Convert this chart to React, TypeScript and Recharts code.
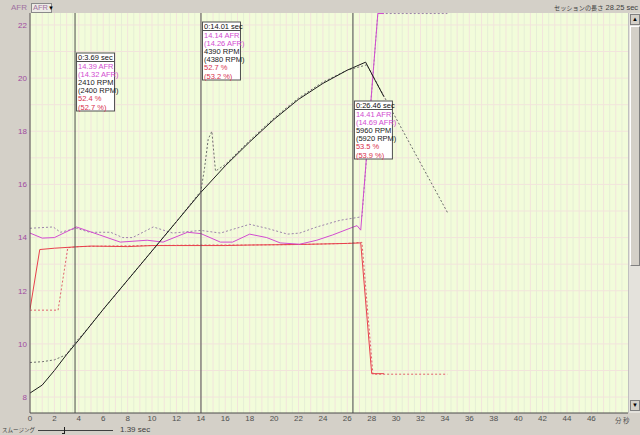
import React from 'react';
import { LineChart, Line, XAxis, YAxis, CartesianGrid, ReferenceLine } from 'recharts';

// everything is drawn on the AFR scale; solid = this session, dashed = comparison session
const rpmNowT = [0, 1, 2, 3, 4, 6, 8, 10, 12, 14, 16, 18, 20, 22, 24, 26, 27.5, 28.3, 29.0];
const rpmNow = [8.15, 8.45, 9.0, 9.6, 10.15, 11.3, 12.4, 13.5, 14.6, 15.7, 16.7, 17.6, 18.45, 19.2, 19.8, 20.3, 20.6, 19.9, 19.3];

const rpmRefT = [0, 1, 2, 3, 3.7, 4.5, 6, 8, 10, 12, 14, 14.3, 14.6, 14.9, 15.2, 16, 18, 20, 22, 24, 26, 27.6, 34.2];
const rpmRef = [9.3, 9.33, 9.4, 9.6, 10.05, 10.45, 11.3, 12.4, 13.5, 14.6, 15.75, 16.6, 17.7, 18.0, 16.5, 16.75, 17.65, 18.5, 19.25, 19.85, 20.3, 20.5, 14.95];

const afrNowT = [0, 1, 2, 3.8, 5.7, 7.4, 9.6, 10.9, 12.9, 14, 15.6, 16.6, 18, 19.4, 20.5, 22.1, 23.5, 24.8, 26.5, 26.8, 27.1, 28.5, 29];
const afrNow = [14.17, 13.98, 14.0, 14.4, 14.1, 13.83, 13.9, 13.83, 14.2, 14.15, 13.83, 13.83, 14.13, 14.0, 13.8, 13.75, 13.9, 14.1, 14.4, 14.45, 14.28, 22.43, 22.43];

const afrRefT = [0, 1.9, 2.5, 3.8, 4.9, 6.6, 7.6, 8.4, 10.1, 11.7, 14, 15.6, 18, 19.4, 21.1, 22.1, 23.5, 25.4, 27.0, 27.2, 28.5, 34.2];
const afrRef = [14.35, 14.4, 14.2, 14.35, 14.2, 14.2, 14.0, 14.0, 14.4, 14.17, 14.27, 14.17, 14.5, 14.35, 14.13, 14.17, 14.4, 14.65, 14.77, 14.8, 22.43, 22.43];

const thrNowT = [0, 0.8, 2, 3.7, 5, 8, 10, 12, 14, 16, 18, 20, 22, 24, 26, 27.1, 28.0, 29];
const thrNow = [11.3, 13.55, 13.6, 13.65, 13.68, 13.66, 13.7, 13.7, 13.7, 13.7, 13.72, 13.73, 13.74, 13.76, 13.78, 13.8, 8.88, 8.88];

const thrRefT = [0, 2.3, 3.1, 4, 6, 10, 14, 18, 22, 26, 27.2, 28.1, 34.2];
const thrRef = [11.27, 11.27, 13.62, 13.66, 13.68, 13.7, 13.72, 13.72, 13.74, 13.78, 13.82, 8.86, 8.86];

// cursor readouts
const cursorT = [3.69, 14.01, 26.46];
const cursorAfr = ['14.39', '14.14', '14.41'];
const cursorAfrRef = ['14.32', '14.26', '14.69'];
const cursorRpm = ['2410', '4390', '5960'];
const cursorRpmRef = ['2400', '4380', '5920'];
const cursorThr = ['52.4', '52.7', '53.5'];
const cursorThrRef = ['52.7', '53.2', '53.9'];
const boxDrop = [40, 9, 88];

const xTicks = [0, 2, 4, 6, 8, 10, 12, 14, 16, 18, 20, 22, 24, 26, 28, 30, 32, 34, 36, 38, 40, 42, 44, 46];
const yTicks = [8, 10, 12, 14, 16, 18, 20, 22];

const zip = (t: number[], v: number[]) => t.map((x, i) => ({ t: x, v: v[i] }));

const AFR_C = '#d24cd0';
const RPM_C = '#1c1c1c';
const THR_C = '#e8404c';
const FONT = '"Liberation Sans", Arial, sans-serif';
const JP = '"Noto Sans CJK JP", "Liberation Sans", sans-serif';

const secs = Array.from({ length: 49 }, (_, i) => i);
const halfSecs = Array.from({ length: 49 }, (_, i) => i + 0.5);
const afrLines = Array.from({ length: 15 }, (_, i) => 8 + i);

function CursorBox(props: any) {
  const { viewBox, idx } = props;
  if (!viewBox) return null;
  const x = viewBox.x + 1.5;
  const y = viewBox.y + boxDrop[idx];
  const w = 38;
  const rows = [
    { s: cursorAfr[idx] + ' AFR', c: AFR_C },
    { s: '(' + cursorAfrRef[idx] + ' AFR)', c: AFR_C },
    { s: cursorRpm[idx] + ' RPM', c: '#202020' },
    { s: '(' + cursorRpmRef[idx] + ' RPM)', c: '#202020' },
    { s: cursorThr[idx] + ' %', c: '#d8304c' },
    { s: '(' + cursorThrRef[idx] + ' %)', c: '#d8304c' },
  ];
  return (
    <g fontFamily={FONT} fontSize={7.5}>
      <rect x={x} y={y} width={w} height={58} fill="#ffffff" stroke="#505050" strokeWidth={1} />
      <line x1={x} x2={x + w} y1={y + 8.5} y2={y + 8.5} stroke="#505050" />
      <text x={x + 1.5} y={y + 7} fill="#101010">{'0:' + cursorT[idx].toFixed(2) + ' sec'}</text>
      {rows.map((r, i) => (
        <text key={i} x={x + 1.5} y={y + 15.5 + i * 8.2} fill={r.c}>{r.s}</text>
      ))}
    </g>
  );
}

export default function App() {
  return (
    <div style={{ position: 'absolute', left: 0, top: 0, width: 640, height: 435, background: '#d4d0c8', overflow: 'hidden', fontFamily: FONT }}>
      <LineChart width={640} height={435} margin={{ top: 13, right: 12, bottom: 0, left: 0 }}>
        <CartesianGrid fill="#f2fcda" stroke="#e6eed6" horizontal={false} verticalValues={halfSecs} />
        <CartesianGrid stroke="#f2e4dc" horizontalValues={afrLines} verticalValues={secs} />
        <XAxis
          type="number"
          dataKey="t"
          domain={[0, 49]}
          ticks={xTicks}
          interval={0}
          allowDataOverflow
          tickSize={0}
          tickMargin={2}
          height={22}
          axisLine={{ stroke: '#4a4a4a' }}
          tick={{ fill: '#505050', fontSize: 8, fontFamily: FONT }}
        />
        <XAxis xAxisId="top" orientation="top" type="number" domain={[0, 49]} height={0} tick={false} tickLine={false} axisLine={{ stroke: '#6a6a6a' }} />
        <YAxis
          type="number"
          domain={[7.4, 22.45]}
          ticks={yTicks}
          interval={0}
          allowDataOverflow
          width={30}
          tickSize={0}
          tickMargin={3}
          axisLine={{ stroke: '#4a4a4a' }}
          tick={{ fill: '#a04aa0', fontSize: 8, fontFamily: FONT }}
        />
        <Line data={zip(thrRefT, thrRef)} dataKey="v" stroke="#e0606c" strokeDasharray="2 2" dot={false} isAnimationActive={false} />
        <Line data={zip(afrRefT, afrRef)} dataKey="v" stroke="#9c84aa" strokeDasharray="2 2" dot={false} isAnimationActive={false} />
        <Line data={zip(rpmRefT, rpmRef)} dataKey="v" stroke="#6c6c6c" strokeDasharray="2 2" dot={false} isAnimationActive={false} />
        <Line data={zip(thrNowT, thrNow)} dataKey="v" stroke={THR_C} dot={false} isAnimationActive={false} />
        <Line data={zip(afrNowT, afrNow)} dataKey="v" stroke={AFR_C} dot={false} isAnimationActive={false} />
        <Line data={zip(rpmNowT, rpmNow)} dataKey="v" stroke={RPM_C} dot={false} isAnimationActive={false} />
        {cursorT.map((t, i) => (
          <ReferenceLine key={i} x={t} stroke="#4c4c4c" label={<CursorBox idx={i} />} />
        ))}
      </LineChart>

      {/* header strip */}
      <div style={{ position: 'absolute', left: 11, top: 3, fontSize: 8, color: '#a070a0' }}>AFR</div>
      <div style={{ position: 'absolute', left: 31, top: 3, width: 21, height: 10, background: '#ecebe6', border: '1px solid #8a8a8a', boxSizing: 'border-box', fontSize: 7.5, lineHeight: '8px', color: '#a070a0', paddingLeft: 1 }}>
        AFR<span style={{ color: '#000', fontSize: 6 }}>▼</span>
      </div>
      <div style={{ position: 'absolute', left: 554, top: 3, fontSize: 7.5, color: '#404040', whiteSpace: 'nowrap' }}>
        <span style={{ fontFamily: JP, fontSize: 6.2 }}>セッションの長さ</span> 28.25 sec
      </div>

      {/* scrollbar */}
      <div style={{ position: 'absolute', left: 628, top: 13, width: 12, height: 400, background: '#e4e2dc', borderLeft: '1px solid #c0c0c0', boxSizing: 'border-box' }}>
        <div style={{ position: 'absolute', left: 1, top: 1, width: 10, height: 11, background: '#d4d0c8', border: '1px solid #808080', boxSizing: 'border-box', fontSize: 6, textAlign: 'center', lineHeight: '9px' }}>▲</div>
        <div style={{ position: 'absolute', left: 1, top: 13, width: 10, height: 240, background: '#d4d0c8', borderRight: '1px solid #808080', borderBottom: '1px solid #808080', borderTop: '1px solid #fff', borderLeft: '1px solid #fff', boxSizing: 'border-box' }} />
        <div style={{ position: 'absolute', left: 1, top: 387, width: 10, height: 11, background: '#d4d0c8', border: '1px solid #808080', boxSizing: 'border-box', fontSize: 6, textAlign: 'center', lineHeight: '9px' }}>▼</div>
      </div>
      <div style={{ position: 'absolute', left: 615, top: 415, fontSize: 6.5, color: '#505050', fontFamily: JP, whiteSpace: 'nowrap' }}>分 秒</div>

      {/* smoothing slider */}
      <div style={{ position: 'absolute', left: 2, top: 426, fontSize: 5.5, color: '#404040', fontFamily: JP, whiteSpace: 'nowrap' }}>スムージング</div>
      <div style={{ position: 'absolute', left: 38, top: 430, width: 75, height: 1, background: '#404040' }} />
      <div style={{ position: 'absolute', left: 62, top: 427, width: 2, height: 6, borderRight: '1px solid #202020', borderBottom: '1px solid #202020' }} />
      <div style={{ position: 'absolute', left: 120, top: 425, fontSize: 8, color: '#404040', whiteSpace: 'nowrap' }}>1.39 sec</div>
    </div>
  );
}
